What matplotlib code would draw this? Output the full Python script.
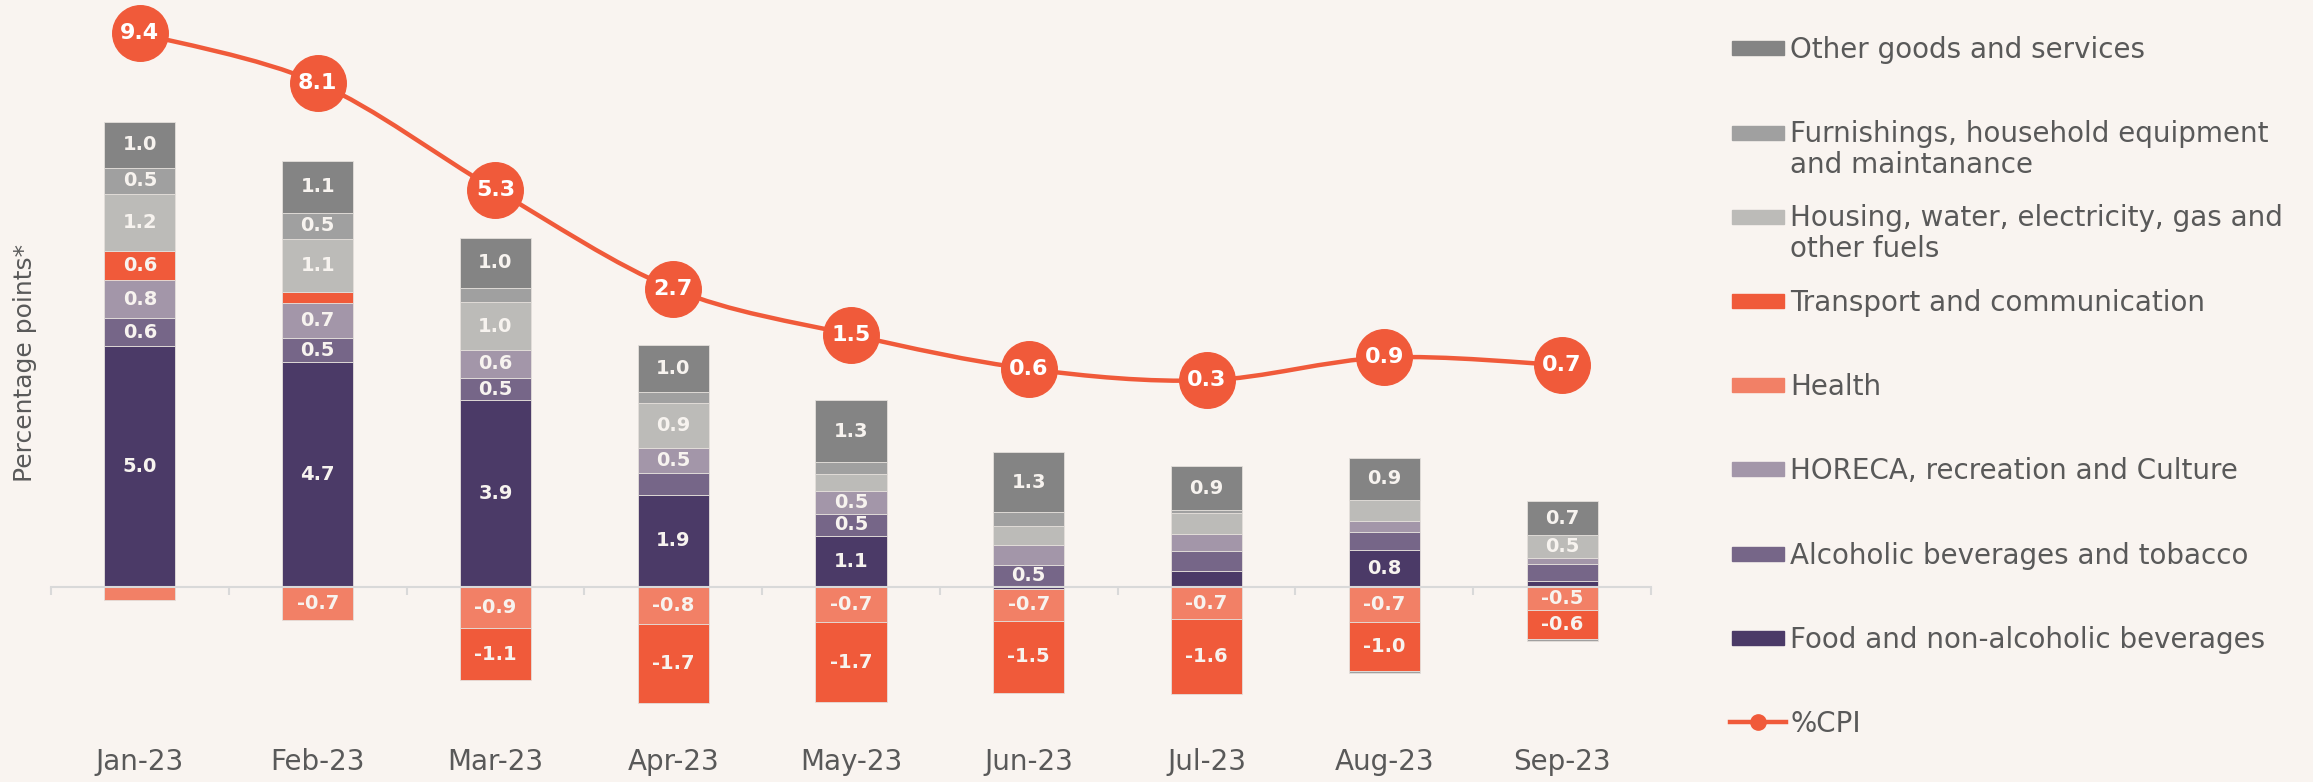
import numpy as np
import matplotlib
matplotlib.use("Agg")
import matplotlib.pyplot as plt
from matplotlib.path import Path
from matplotlib.patches import PathPatch, Rectangle
from matplotlib.lines import Line2D

# contributions to CPI, percentage points
months = ["Jan-23", "Feb-23", "Mar-23", "Apr-23", "May-23", "Jun-23", "Jul-23", "Aug-23", "Sep-23"]
food = [5.02, 4.68, 3.88, 1.92, 1.06, -0.05, 0.33, 0.76, 0.11]
alcohol = [0.57, 0.50, 0.47, 0.44, 0.46, 0.46, 0.41, 0.39, 0.37]
horeca = [0.79, 0.74, 0.58, 0.54, 0.48, 0.40, 0.35, 0.22, 0.12]
health = [-0.28, -0.69, -0.86, -0.77, -0.73, -0.66, -0.68, -0.73, -0.49]
transport = [0.62, 0.21, -1.09, -1.66, -1.68, -1.50, -1.56, -1.02, -0.60]
housing = [1.19, 1.12, 1.00, 0.92, 0.34, 0.40, 0.44, 0.44, 0.47]
furnishings = [0.54, 0.54, 0.30, 0.24, 0.26, 0.29, 0.06, -0.04, -0.04]
other = [0.96, 1.08, 1.04, 0.98, 1.28, 1.26, 0.92, 0.87, 0.72]
cpi = [9.4, 8.1, 5.3, 2.7, 1.5, 0.6, 0.3, 0.9, 0.7]

# bottom -> top stacking order
series = [
    ("Food and non-alcoholic beverages", food, "#4b3a67"),
    ("Alcoholic beverages and tobacco", alcohol, "#766688"),
    ("HORECA, recreation and Culture", horeca, "#a396a9"),
    ("Health", health, "#f28066"),
    ("Transport and communication", transport, "#f05a3a"),
    ("Housing, water, electricity, gas and\nother fuels", housing, "#bcbbb8"),
    ("Furnishings, household equipment\nand maintanance", furnishings, "#a0a0a0"),
    ("Other goods and services", other, "#848484"),
]

bg = "#f9f4f0"
txt = "#595959"
orange = "#f05a3a"
W, H = 2313, 782

fig = plt.figure(figsize=(W / 100, H / 100), dpi=100, facecolor=bg)
ax = fig.add_axes([51 / W, 0, 1600 / W, 1])
ax.set_facecolor(bg)

x = np.arange(len(months))
pos = np.zeros(len(x))
neg = np.zeros(len(x))
for name, vals, col in series:
    v = np.array(vals)
    base = np.where(v >= 0, pos, neg)
    ax.bar(x, v, 0.4, bottom=base, color=col, edgecolor="#e4dfdb", linewidth=0.6, zorder=2)
    for xi, vi, bi in zip(x, v, base):
        if abs(round(vi, 1)) >= 0.5:
            ax.text(xi, bi + vi / 2, f"{vi:.1f}", ha="center", va="center",
                    color="#f7f3ef", fontsize=14, fontweight="bold", zorder=3)
    pos += np.where(v > 0, v, 0)
    neg += np.where(v < 0, v, 0)

ax.set_xlim(-0.5, 8.5)
ax.set_ylim((586.7 - H) / 48, 586.7 / 48)
for s in ["top", "right", "left"]:
    ax.spines[s].set_visible(False)
ax.spines["bottom"].set_position(("data", 0))
ax.spines["bottom"].set_color("#d9d9d9")
ax.spines["bottom"].set_linewidth(1.5)
ax.set_yticks([])
ax.set_xticks(x)
ax.set_xticklabels(months)
ax.set_xticks(np.arange(-0.5, 9, 1), minor=True)
ax.tick_params(axis="x", which="major", length=0, pad=116, labelsize=20, labelcolor=txt)
ax.tick_params(axis="x", which="minor", length=6, width=1.5, color="#d9d9d9", direction="out")

fig.text(37 / W, 1 - 363 / H, "Percentage points*", rotation=90, ha="right", va="center",
         fontsize=18, color=txt)

# CPI line on secondary axis, smoothed like a spreadsheet chart
ax2 = ax.twinx()
ax2.set_ylim((391.8 - H) / 38.13, 391.8 / 38.13)
ax2.axis("off")
pts = np.column_stack([x, cpi]).astype(float)
verts = [pts[0]]
codes = [Path.MOVETO]
n = len(pts)
for i in range(n - 1):
    p0 = pts[i - 1] if i > 0 else pts[i]
    p1, p2 = pts[i], pts[i + 1]
    p3 = pts[i + 2] if i + 2 < n else pts[i + 1]
    verts += [p1 + (p2 - p0) / 6, p2 - (p3 - p1) / 6, p2]
    codes += [Path.CURVE4] * 3
ax2.add_patch(PathPatch(Path(verts, codes), fill=False, edgecolor=orange, lw=3.2, zorder=4))
ax2.plot(x, cpi, "o", ms=40, color=orange, zorder=5, clip_on=False)
for xi, ci in zip(x, cpi):
    ax2.text(xi, ci, f"{ci:.1f}", ha="center", va="center", color="white",
             fontsize=16, fontweight="bold", zorder=6)

# legend, top series first (patch lines up with the first text line)
entries = [(name, col) for name, vals, col in series[::-1]]
for i, (name, col) in enumerate(entries):
    yc = 48.4 + 84.2 * i
    fig.patches.append(Rectangle((1732 / W, 1 - (yc + 7) / H), 52 / W, 14 / H,
                                 transform=fig.transFigure, color=col, figure=fig))
    extra = 30 * name.count("\n")
    fig.text(1790 / W, 1 - (yc + 10 + extra) / H, name, ha="left", va="baseline", fontsize=20,
             color=txt, linespacing=1.13)
yc = 48.4 + 84.2 * len(entries)
fig.lines.append(Line2D([1730 / W, 1786 / W], [1 - yc / H] * 2, transform=fig.transFigure,
                        color=orange, lw=3.2, figure=fig))
fig.lines.append(Line2D([1758 / W], [1 - yc / H], transform=fig.transFigure, color=orange,
                        marker="o", ms=11, figure=fig))
fig.text(1790 / W, 1 - (yc + 10) / H, "%CPI", ha="left", va="baseline", fontsize=20, color=txt)

fig.savefig("out.png", dpi=100, facecolor=bg)
